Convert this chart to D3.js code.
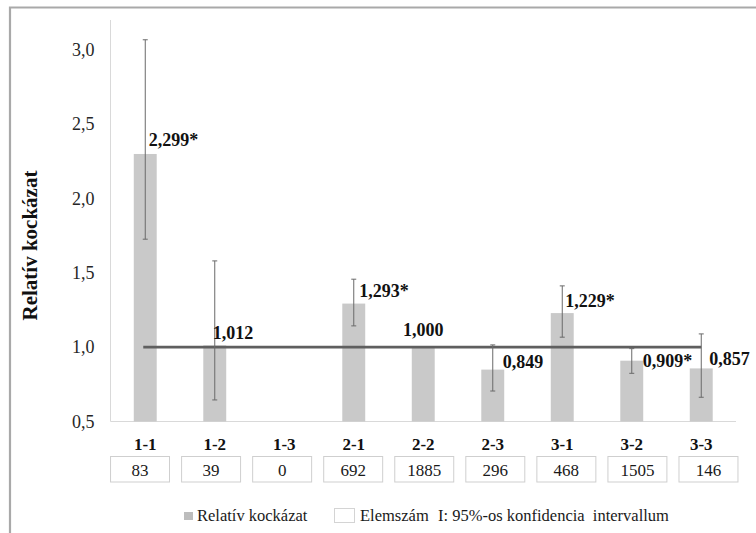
<!DOCTYPE html>
<html><head><meta charset="utf-8">
<script src="https://cdn.jsdelivr.net/npm/d3@7"></script>
<style>
html,body{margin:0;padding:0;background:#fff;}
</style></head>
<body>
<svg id="chart" width="756" height="533"></svg>
<script>
// ---- data ----
const categories = ["1-1","1-2","1-3","2-1","2-2","2-3","3-1","3-2","3-3"];
const riskValues = [2.299, 1.012, null, 1.293, 1.000, 0.849, 1.229, 0.909, 0.857];
const ciLow  = [1.726, 0.645, null, 1.143, null, 0.705, 1.067, 0.824, 0.663];
const ciHigh = [3.067, 1.580, null, 1.457, null, 1.015, 1.412, 0.990, 1.089];
const significant = [true, false, false, true, false, false, true, true, false];
const sampleSizes = [83, 39, 0, 692, 1885, 296, 468, 1505, 146];
const yTicks = [0.5, 1.0, 1.5, 2.0, 2.5, 3.0];
const referenceValue = 1.0;
const yTitle = "Relatív kockázat";
const legendLabels = ["Relatív kockázat", "Elemszám", "I: 95%-os konfidencia  intervallum"];

// ---- layout (label nudges relative to bar centre/top) ----
const labelNudge = [[3.5,-8],[-2,-6],[0,0],[5.5,-7],[0,-11],[10,-2],[3,-6],[11,6],[8,-3]];
const labelAnchor = ["start","start","start","start","middle","start","start","start","start"];

// pick an installed serif face, if any
function detectFont(list){
  const cv = document.createElement("canvas").getContext("2d");
  const s = "Relatív kockázat 0123456789 WMmil";
  const base = {};
  ["monospace","sans-serif"].forEach(b=>{cv.font="40px "+b; base[b]=cv.measureText(s).width;});
  for (const f of list){
    let ok = true;
    for (const b of ["monospace","sans-serif"]){
      cv.font = `40px "${f}", ${b}`;
      if (Math.abs(cv.measureText(s).width - base[b]) < 0.01) { ok = false; }
    }
    if (ok) return `"${f}"`;
  }
  return "serif";
}
const FONT = detectFont(["Liberation Serif","Times New Roman","Tinos","DejaVu Serif","Noto Serif","FreeSerif","Nimbus Roman","Times","Georgia"]);

const svg = d3.select("#chart").attr("font-family", FONT);
const fmt = v => v.toFixed(3).replace(".", ",");
const fmtTick = v => v.toFixed(1).replace(".", ",");

// frame
svg.append("path").attr("d","M10,533 V7.5 H756").attr("fill","none")
  .attr("stroke","#a9a9a9").attr("stroke-width",2.2);

const x = d3.scaleBand().domain(categories).range([110.5, 736]).padding(0);
const y = d3.scaleLinear().domain([0.5, 3.2]).range([421.5, 20]);
const cx = c => x(c) + x.bandwidth()/2;
const barW = x.step()*0.33;

// axes lines
svg.append("line").attr("x1",110.5).attr("x2",110.5).attr("y1",y(3.2)).attr("y2",y(0.5))
  .attr("stroke","#d9d9d9").attr("stroke-width",1);
svg.append("line").attr("x1",110.5).attr("x2",736).attr("y1",y(0.5)).attr("y2",y(0.5))
  .attr("stroke","#d9d9d9").attr("stroke-width",1.2);

// y tick labels
const yAxis = d3.axisLeft(y).tickValues(yTicks).tickFormat(fmtTick).tickSize(0).tickPadding(16);
const ga = svg.append("g").attr("transform","translate(110.5,0)").call(yAxis);
ga.attr("font-family", FONT).attr("font-size", 18);
ga.select(".domain").remove();
ga.selectAll("text").attr("fill","#262626");

// y title
svg.append("text").attr("transform","translate(37,245.5) rotate(-90)")
  .attr("text-anchor","middle").attr("font-size",21).attr("font-weight","bold")
  .attr("fill","#111").text(yTitle);

// bars
const rows = categories.map((c,i)=>({c,i,v:riskValues[i],lo:ciLow[i],hi:ciHigh[i],sig:significant[i],n:sampleSizes[i]}));
svg.append("g").selectAll("rect").data(rows.filter(d=>d.v!=null)).join("rect")
  .attr("x",d=>cx(d.c)-barW/2).attr("width",barW)
  .attr("y",d=>y(d.v)).attr("height",d=>y(0.5)-y(d.v))
  .attr("fill","#c9c9c9");

// reference line
svg.append("line").attr("x1",cx(categories[0])-2).attr("x2",cx(categories[categories.length-1]))
  .attr("y1",y(referenceValue)).attr("y2",y(referenceValue))
  .attr("stroke","#5f5f5f").attr("stroke-width",2.6);

// error bars
const eb = svg.append("g").attr("stroke","#6a6a6a").attr("stroke-width",1);
rows.filter(d=>d.lo!=null).forEach(d=>{
  const xc = cx(d.c);
  eb.append("line").attr("x1",xc).attr("x2",xc).attr("y1",y(d.hi)).attr("y2",y(d.lo));
  eb.append("line").attr("x1",xc-2.5).attr("x2",xc+2.5).attr("y1",y(d.hi)).attr("y2",y(d.hi));
  eb.append("line").attr("x1",xc-2.5).attr("x2",xc+2.5).attr("y1",y(d.lo)).attr("y2",y(d.lo));
});

// value labels
svg.append("g").selectAll("text").data(rows.filter(d=>d.v!=null)).join("text")
  .attr("x",d=>cx(d.c)+labelNudge[d.i][0]).attr("y",d=>y(d.v)+labelNudge[d.i][1])
  .attr("text-anchor",d=>labelAnchor[d.i])
  .attr("font-size",18).attr("font-weight","bold").attr("fill","#111")
  .text(d=>fmt(d.v)+(d.sig?"*":""));

// category labels
svg.append("g").selectAll("text").data(rows).join("text")
  .attr("x",d=>cx(d.c)).attr("y",450).attr("text-anchor","middle")
  .attr("font-size",17).attr("font-weight","bold").attr("fill","#111").text(d=>d.c);

// sample size table
const xt = d3.scaleBand().domain(categories).range([104.5, 744]).paddingInner(0.17).paddingOuter(0.085);
const cells = svg.append("g").selectAll("g").data(rows).join("g");
cells.append("rect").attr("x",d=>xt(d.c)).attr("width",xt.bandwidth())
  .attr("y",456.5).attr("height",25.5).attr("fill","#fff").attr("stroke","#cfcfcf").attr("stroke-width",1);
cells.append("text").attr("x",d=>xt(d.c)+xt.bandwidth()/2).attr("y",475.5)
  .attr("text-anchor","middle").attr("font-size",17).attr("fill","#1a1a1a").text(d=>d.n);

// legend
const lg = svg.append("g");
lg.append("rect").attr("x",184).attr("y",512).attr("width",9).attr("height",8).attr("fill","#bdbdbd");
lg.append("text").attr("x",197).attr("y",521).attr("font-size",16.5).attr("fill","#1a1a1a").text(legendLabels[0]);
lg.append("rect").attr("x",334.5).attr("y",508.5).attr("width",20).attr("height",14)
  .attr("fill","#fff").attr("stroke","#d4d4d4");
lg.append("text").attr("x",360).attr("y",521).attr("font-size",16.5).attr("fill","#1a1a1a").text(legendLabels[1]);
lg.append("text").attr("x",438).attr("y",521).attr("font-size",16.5).attr("fill","#1a1a1a")
  .style("white-space","pre").text(legendLabels[2]);
</script>
</body></html>
